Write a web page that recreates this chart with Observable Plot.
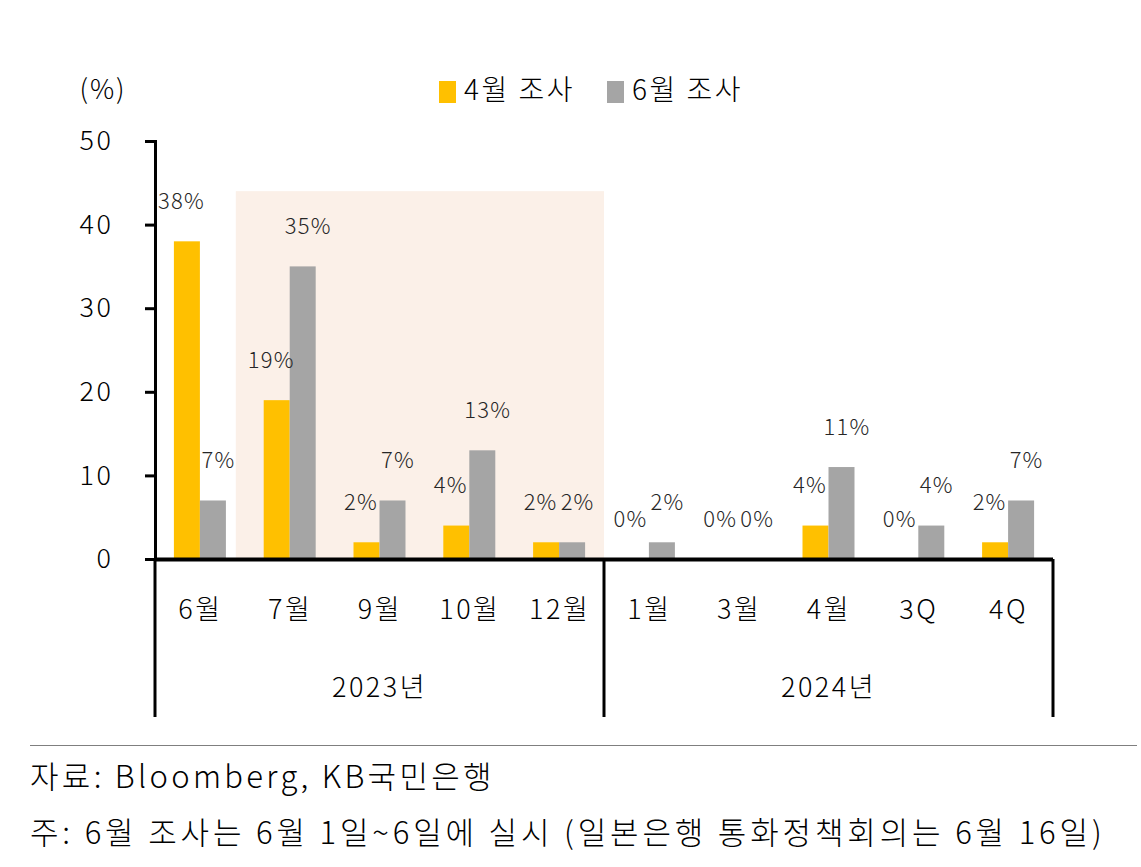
<!DOCTYPE html>
<html>
<head>
<meta charset="utf-8">
<script src="https://cdn.jsdelivr.net/npm/d3@7"></script>
<script src="https://cdn.jsdelivr.net/npm/@observablehq/plot@0.6"></script>
<style>
  html, body { margin: 0; padding: 0; background: #fff; }
  body { width: 1141px; height: 867px; position: relative; overflow: hidden;
         font-family: "Noto Sans CJK KR", "Noto Sans", sans-serif; color: #000; font-weight: 300; }
  #chart { position: absolute; left: 0; top: 0; }
  #rule { position: absolute; left: 30px; top: 745px; width: 1107px; height: 0; border-top: 1.5px solid #7f7f7f; }
  .note { position: absolute; left: 30px; font-size: 31px; line-height: 1; letter-spacing: 3.3px; white-space: nowrap; }
</style>
</head>
<body>
<div id="chart"></div>
<div id="rule"></div>
<div class="note" id="src" style="top:759px">자료: Bloomberg, KB국민은행</div>
<div class="note" id="memo" style="top:815px; letter-spacing: 3.85px">주: 6월 조사는 6월 1일~6일에 실시 (일본은행 통화정책회의는 6월 16일)</div>
<script>
// ---- data ----
const categories = ["6월", "7월", "9월", "10월", "12월", "1월", "3월", "4월", "3Q", "4Q"];
const years = ["2023년", "2023년", "2023년", "2023년", "2023년", "2024년", "2024년", "2024년", "2024년", "2024년"];
const seriesNames = ["4월 조사", "6월 조사"];
const aprilSurvey = [38, 19, 2, 4, 2, 0, 0, 4, 0, 2];
const juneSurvey = [7, 35, 7, 13, 2, 2, 0, 11, 4, 7];
const yTicks = [0, 10, 20, 30, 40, 50];
const shadeFrom = "7월", shadeTo = "12월";
const shadeTop = 44;
const yUnit = "(%)";

const colors = ["#FFC000", "#A5A5A5"];

const rows = [];
categories.forEach((c, i) => {
  rows.push({cat: c, series: seriesNames[0], value: aprilSurvey[i]});
  rows.push({cat: c, series: seriesNames[1], value: juneSurvey[i]});
});

const W = 1141, H = 740;
const ML = 155, MR = 88, MT = 141, MB = H - 559;
const bw = (W - ML - MR) / categories.length;
const barW = 26;
const gap = (bw - 2 * barW) / 2;

const font = '"Noto Sans CJK KR", "Noto Sans", sans-serif';

const chart = Plot.plot({
  width: W, height: H,
  marginLeft: ML, marginRight: MR, marginTop: MT, marginBottom: MB,
  style: {fontFamily: font, background: "transparent", color: "#000", fontWeight: 300},
  x: {domain: categories, padding: 0, round: false, label: null},
  y: {domain: [0, 50], label: null},
  marks: [
    Plot.rect([{from: shadeFrom, to: shadeTo, top: shadeTop}], {x1: "from", x2: "to", y1: () => 0, y2: "top", fill: "#FBF0E8", insetLeft: -9}),
    Plot.barY(rows.filter(d => d.series === seriesNames[0]), {x: "cat", y: "value", fill: colors[0], insetLeft: gap, insetRight: bw / 2}),
    Plot.barY(rows.filter(d => d.series === seriesNames[1]), {x: "cat", y: "value", fill: colors[1], insetLeft: bw / 2, insetRight: gap}),
    Plot.text(rows.filter(d => d.series === seriesNames[0]), {x: "cat", y: "value", text: d => d.value + "%", dx: -(barW / 2) - 6, dy: -40, fontSize: 22, fill: "#262626"}),
    Plot.text(rows.filter(d => d.series === seriesNames[1]), {x: "cat", y: "value", text: d => d.value + "%", dx: (barW / 2) + 5, dy: -40, fontSize: 22, fill: "#262626"}),
    Plot.axisY({ticks: yTicks, tickSize: 10, strokeWidth: 3, tickPadding: 32, fontSize: 27, label: null}),
    Plot.axisX({tickSize: 0, tickPadding: 40, fontSize: 27, label: null}),
    Plot.frame({anchor: "left", strokeWidth: 3}),
    Plot.ruleY([0], {strokeWidth: 4})
  ]
});

document.getElementById("chart").append(chart);

const svg = d3.select(chart);
// widen glyph spacing to match the reference face
svg.selectAll("[aria-label='y-axis tick label'] text").style("letter-spacing", "2.5px");
svg.selectAll("[aria-label='x-axis tick label'] text").style("letter-spacing", "2.5px");
svg.selectAll("[aria-label='text'] text").style("letter-spacing", "1.2px");

// two-tier axis brackets and year labels, via the plot's scales
const xs = chart.scale("x");
const ys = chart.scale("y");
const y0 = ys.apply(0);
const groups = d3.groups(categories.map((c, i) => ({c, y: years[i]})), d => d.y);
const bounds = [];
groups.forEach(([yr, items], gi) => {
  const x1 = xs.apply(items[0].c);
  const x2 = xs.apply(items[items.length - 1].c) + xs.bandwidth;
  if (gi === 0) bounds.push(x1);
  bounds.push(x2);
  svg.append("text")
    .attr("x", (x1 + x2) / 2).attr("y", y0 + 131)
    .attr("text-anchor", "middle").attr("dominant-baseline", "middle")
    .attr("font-size", 27).attr("font-family", font).attr("fill", "#000")
    .style("letter-spacing", "2.5px")
    .text(yr);
});
bounds.forEach(x => {
  svg.append("line").attr("x1", x).attr("x2", x).attr("y1", y0).attr("y2", y0 + 158)
    .attr("stroke", "#000").attr("stroke-width", 3);
});

// y unit label
svg.append("text").attr("x", 103).attr("y", 92)
  .attr("text-anchor", "middle").attr("dominant-baseline", "middle")
  .attr("font-size", 27).attr("font-family", font).attr("fill", "#000")
  .style("letter-spacing", "2px").text(yUnit);

// legend
const legendX = [439, 607];
seriesNames.forEach((s, i) => {
  const g = svg.append("g").attr("transform", `translate(${legendX[i]},92)`);
  g.append("rect").attr("x", 0).attr("y", -11).attr("width", 17).attr("height", 22).attr("fill", colors[i]);
  g.append("text").attr("x", 25).attr("y", 0).attr("dominant-baseline", "middle")
    .attr("text-anchor", "start")
    .attr("font-size", 28).attr("font-family", font).attr("fill", "#000")
    .style("letter-spacing", "2.5px").text(s);
});
</script>
</body>
</html>
